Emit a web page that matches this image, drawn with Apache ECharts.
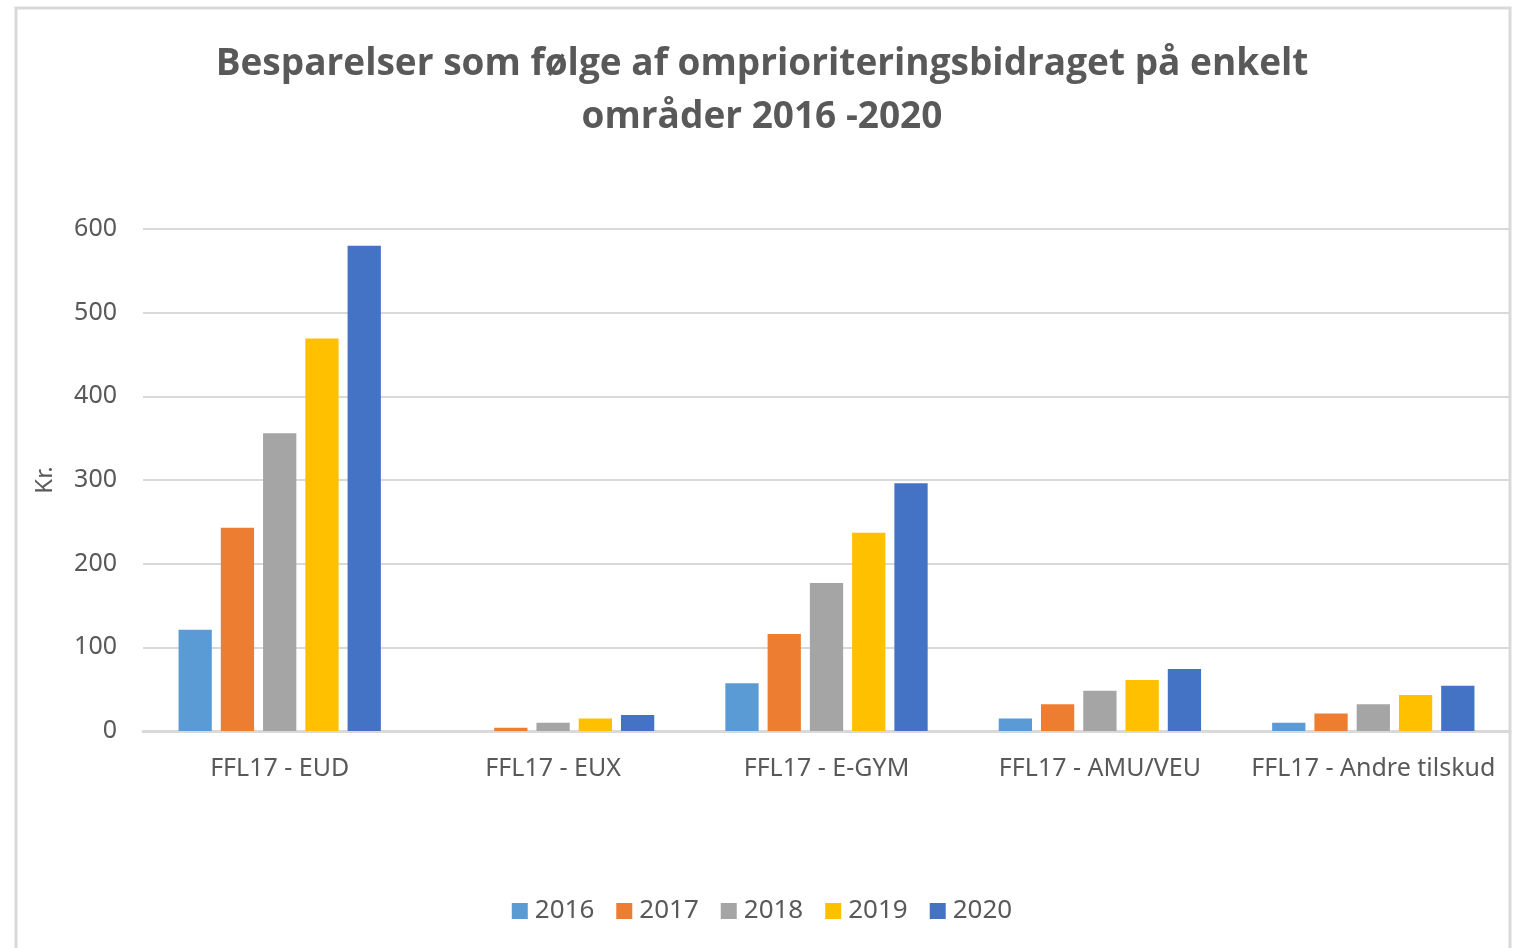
<!doctype html>
<html>
<head>
<meta charset="UTF-8">
<title>Besparelser</title>
<style>
  html, body { margin: 0; padding: 0; background: #fff; }
  #chart { width: 1524px; height: 948px; }
</style>
</head>
<body>
<div id="chart"></div>
<script src="https://cdn.jsdelivr.net/npm/echarts@6/dist/echarts.min.js"></script>
<script>
// categories and values
var categories = ['FFL17 - EUD', 'FFL17 - EUX', 'FFL17 - E-GYM', 'FFL17 - AMU/VEU', 'FFL17 - Andre tilskud'];
var years = ['2016', '2017', '2018', '2019', '2020'];
var v2016 = [121, 0, 57, 15, 10];
var v2017 = [243, 4, 116, 32, 21];
var v2018 = [356, 10, 177, 48, 32];
var v2019 = [469, 15, 237, 61, 43];
var v2020 = [580, 19, 296, 74, 54];
var yTicks = [0, 100, 200, 300, 400, 500, 600];

var colors = ['#5b9bd5', '#ed7d31', '#a5a5a5', '#ffc000', '#4472c4'];
var allValues = [v2016, v2017, v2018, v2019, v2020];

var chart = echarts.init(document.getElementById('chart'));

var series = years.map(function (y, i) {
  return {
    name: y,
    type: 'bar',
    data: allValues[i],
    barCategoryGap: '26%',
    barGap: '27%',
    itemStyle: { color: colors[i] }
  };
});

var option = {
  color: colors,
  animation: false,
  graphic: [{
    type: 'rect',
    z: -1,
    shape: { x: 16, y: 8, width: 1494, height: 960 },
    style: { fill: 'none', stroke: '#d9d9d9', lineWidth: 3 }
  }],
  title: {
    text: 'Besparelser som følge af omprioriteringsbidraget på enkelt\nområder 2016 -2020',
    left: 'center',
    top: 33,
    textStyle: {
      fontFamily: 'Open Sans',
      fontWeight: 700,
      fontSize: 37,
      lineHeight: 53,
      color: '#595959'
    }
  },
  legend: {
    data: years,
    bottom: 19,
    left: 'center',
    itemWidth: 16,
    itemHeight: 16,
    itemGap: 22,
    icon: 'rect',
    textStyle: { fontFamily: 'Noto Sans', fontSize: 26, color: '#595959', padding: [0, 0, 0, 2] }
  },
  grid: { left: 143, right: 14, top: 229, bottom: 217 },
  xAxis: {
    type: 'category',
    data: categories,
    axisLine: { lineStyle: { color: '#d9d9d9', width: 3 } },
    axisTick: { show: false },
    axisLabel: { interval: 0, fontFamily: 'Noto Sans', fontSize: 25, color: '#595959', margin: 25 }
  },
  yAxis: {
    type: 'value',
    min: yTicks[0],
    max: yTicks[yTicks.length - 1],
    interval: 100,
    name: 'Kr.',
    nameLocation: 'middle',
    nameGap: 86,
    nameTextStyle: { fontFamily: 'Noto Sans', fontSize: 24, color: '#595959' },
    axisLine: { show: false },
    axisTick: { show: false },
    splitLine: { lineStyle: { color: '#d9d9d9', width: 2 } },
    axisLabel: { fontFamily: 'Noto Sans', fontSize: 25, color: '#595959', margin: 26 }
  },
  series: series
};

chart.setOption(option);
</script>
</body>
</html>
